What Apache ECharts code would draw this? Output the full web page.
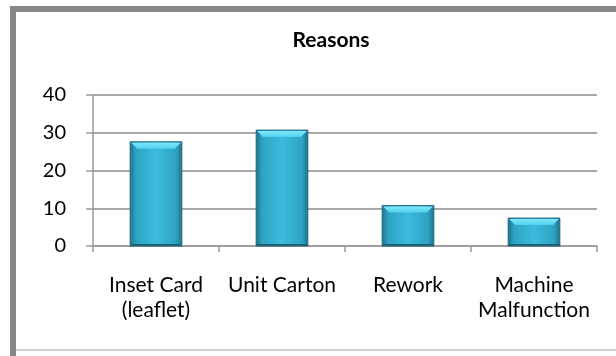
<!DOCTYPE html>
<html>
<head>
<meta charset="utf-8">
<script src="https://cdn.jsdelivr.net/npm/echarts@6/dist/echarts.min.js"></script>
<style>html,body{margin:0;padding:0;background:#fff}#c{width:616px;height:356px}</style>
</head>
<body>
<div id="c"></div>
<script>
const categories = ['Inset Card\n(leaflet)', 'Unit Carton', 'Rework', 'Machine\nMalfunction'];
const values = [27.6, 30.7, 10.7, 7.4];
const yTicks = [0, 10, 20, 30, 40];
const titleText = 'Reasons';

const chart = echarts.init(document.getElementById('c'), null, {renderer: 'canvas'});
const FONT = 'Lato, "Open Sans", sans-serif';

function renderBar(params, api) {
  const idx = api.value(0);
  const v = api.value(1);
  const top = api.coord([idx, v]);
  const base = api.coord([idx, 0]);
  const size = api.size([1, 0]);
  const w = size[0] * 0.41;
  const x = top[0] - w / 2;
  const y = top[1];
  const h = base[1] - top[1];
  const b = Math.min(7, h / 2);
  return {
    type: 'group',
    children: [
      { type: 'rect', shape: {x: x, y: y, width: w, height: h},
        style: { fill: new echarts.graphic.LinearGradient(0, 0, 1, 0, [
          {offset: 0, color: '#1f6f86'}, {offset: 0.12, color: '#2ea3c2'},
          {offset: 0.5, color: '#3bbbdc'}, {offset: 0.88, color: '#2ea3c2'}, {offset: 1, color: '#1f6f86'}]),
          stroke: '#1e6a80', lineWidth: 1 } },
      { type: 'polygon', shape: { points: [[x + 1, y + 1], [x + w - 1, y + 1], [x + w - b, y + b], [x + b, y + b]] },
        style: { fill: new echarts.graphic.LinearGradient(0, 0, 0, 1, [
          {offset: 0, color: '#7ee8fb'}, {offset: 1, color: '#52d0ef'}]) } },
      { type: 'rect', shape: {x: x, y: base[1] - 2, width: w, height: 2},
        style: { fill: '#1d6479' } }
    ]
  };
}

chart.setOption({
  animation: false,
  backgroundColor: '#fff',
  title: {
    text: titleText, left: 326, top: 25, textAlign: 'center',
    textStyle: { fontFamily: FONT, fontSize: 21, fontWeight: 'bold', color: '#000' }
  },
  grid: { left: 93, right: 19, top: 95, bottom: 110 },
  xAxis: {
    type: 'category', data: categories,
    axisLine: { show: true, lineStyle: { color: '#9a9a9a', width: 1.5 } },
    axisTick: { show: true, alignWithLabel: false, length: 6, lineStyle: { color: '#9a9a9a', width: 1.5 } },
    axisLabel: { fontFamily: FONT, fontSize: 21, color: '#000', margin: 27, lineHeight: 25, interval: 0 }
  },
  yAxis: {
    type: 'value', min: yTicks[0], max: yTicks[yTicks.length - 1], interval: 10,
    axisLine: { show: true, lineStyle: { color: '#9a9a9a', width: 1.5 } },
    axisTick: { show: true, inside: false, length: 7, lineStyle: { color: '#9a9a9a', width: 1.5 } },
    axisLabel: { fontFamily: FONT, fontSize: 20, color: '#000', margin: 27 },
    splitLine: { show: true, lineStyle: { color: '#8c8c8c', width: 1.5 } }
  },
  series: [{
    type: 'custom',
    renderItem: renderBar,
    encode: { x: 0, y: 1 },
    data: values.map((v, i) => [i, v])
  }],
  graphic: [
    { type: 'rect', shape: { x: 10, y: 6, width: 6, height: 350 }, style: { fill: '#878787' }, z: 100 },
    { type: 'rect', shape: { x: 10, y: 6, width: 606, height: 6 }, style: { fill: '#878787' }, z: 100 },
    { type: 'rect', shape: { x: 16, y: 349, width: 600, height: 2 }, style: { fill: '#d0d0d0' }, z: 100 }
  ]
});
</script>
</body>
</html>
